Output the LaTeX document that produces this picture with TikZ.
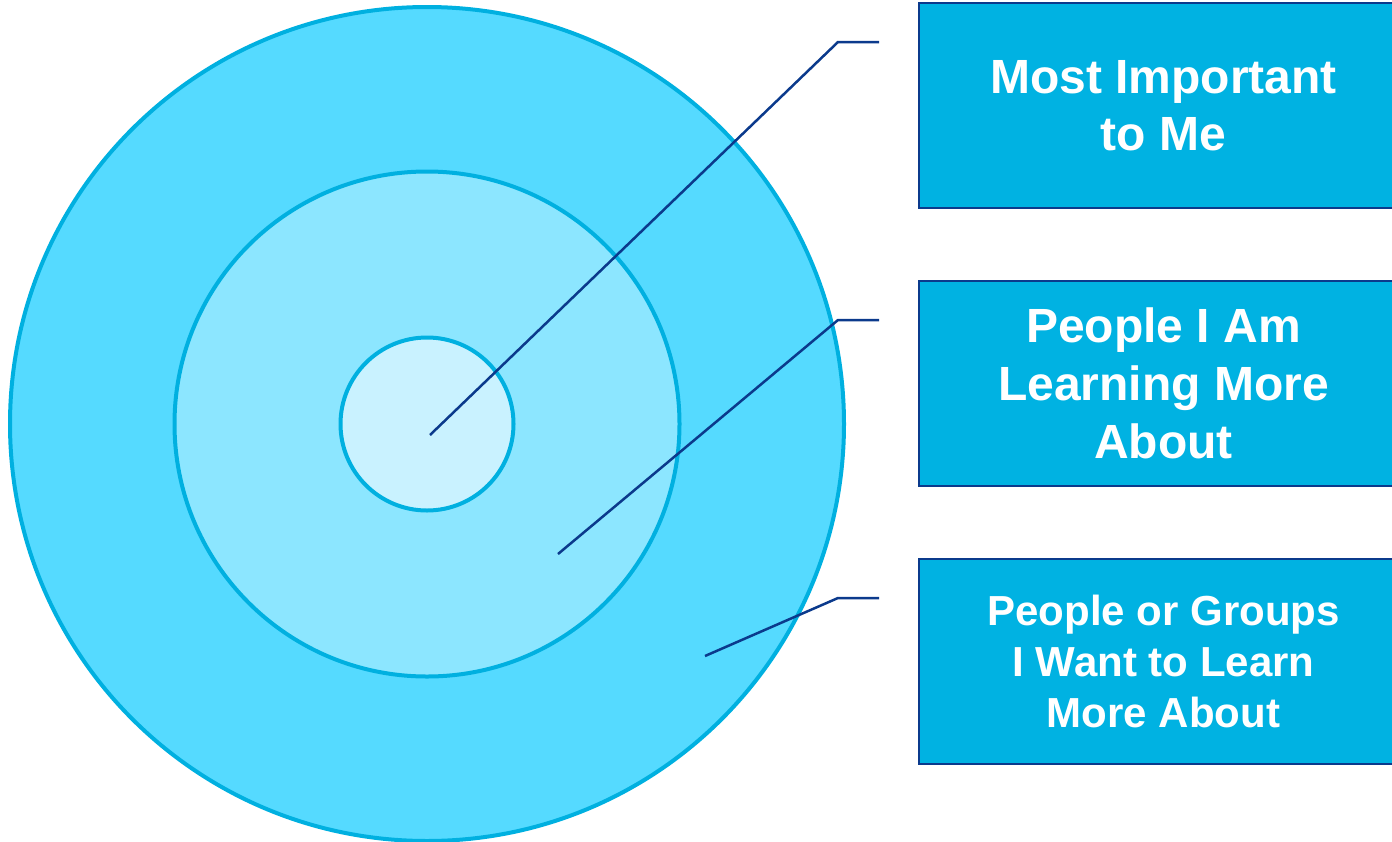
\documentclass[tikz,border=0pt]{standalone}
\usepackage{fontspec}
\setmainfont{Liberation Sans}
\usetikzlibrary{positioning}
\definecolor{outerfill}{HTML}{55DAFF}
\definecolor{midfill}{HTML}{8CE6FF}
\definecolor{innerfill}{HTML}{C9F2FF}
\definecolor{ringline}{HTML}{00B0E0}
\definecolor{boxfill}{HTML}{00B2E2}
\definecolor{navy}{HTML}{0B3A8C}
\tikzset{
  ring/.style = {circle, draw=ringline, line width=4pt, fill=#1,
                 inner sep=0pt, outer sep=0pt},
  ring/.default = outerfill,
  label box/.style = {rectangle, fill=boxfill, draw=navy, line width=2.5pt,
                      minimum width=489pt, minimum height=205pt,
                      anchor=north west, align=center, text=white,
                      inner sep=0pt, outer sep=0pt},
  leader/.style = {draw=navy, line width=2.5pt}
}

\begin{document}
\begin{tikzpicture}[x=1pt,y=-1pt]
	\def \cx{427}
	\def \cy{424}
	\def \gap{40pt}
	\def \drop{-39pt}
	\useasboundingbox (0,0) rectangle (1392,841);
	
	% Circles
	\node[ring=outerfill, minimum size=834pt] (outer) at (\cx,\cy) {};
	\node[ring=midfill,   minimum size=505pt] (middle) at (\cx,\cy) {};
	\node[ring=innerfill, minimum size=173pt] (inner) at (\cx,\cy) {};
	
	% Boxes
	\node[label box, font=\fontsize{48}{57}\selectfont\bfseries] (b1) at (919,3)
		{Most Important\\to Me};
	\node[label box, font=\fontsize{48}{58}\selectfont\bfseries] (b2) at (919,281)
		{People I Am\\Learning More\\About};
	\node[label box, font=\fontsize{42}{51}\selectfont\bfseries] (b3) at (919,559)
		{People or Groups\\I Want to Learn\\More About};
	
	% Leader points
	\coordinate (p1) at (430,435); % inner
	\coordinate (p2) at (558,554); % middle
	\coordinate (p3) at (705,656); % outer
	\coordinate (k1) at (838,42);
	\coordinate (k2) at (838,320);
	\coordinate (k3) at (838,598);
	
	% Leaders
	\draw[leader] (p1) -- (k1) -- ([xshift=-\gap, yshift=\drop]b1.north west);
	\draw[leader] (p2) -- (k2) -- ([xshift=-\gap, yshift=\drop]b2.north west);
	\draw[leader] (p3) -- (k3) -- ([xshift=-\gap, yshift=\drop]b3.north west);
	
\end{tikzpicture}
\end{document}
